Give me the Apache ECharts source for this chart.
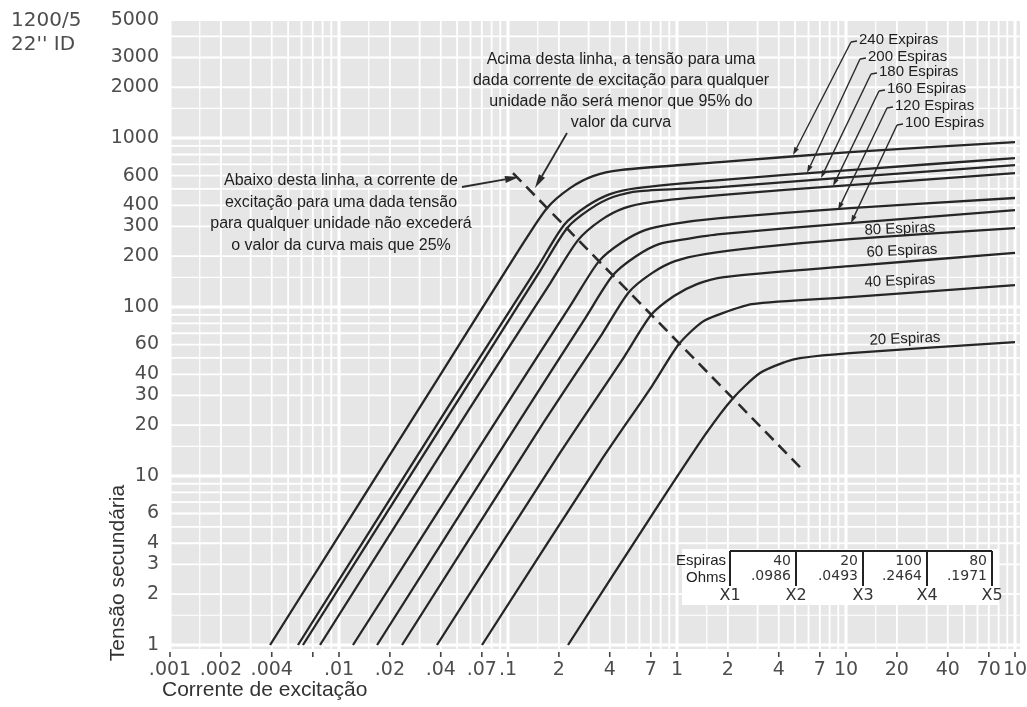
<!DOCTYPE html>
<html><head><meta charset="utf-8">
<script src="https://cdn.jsdelivr.net/npm/echarts@6/dist/echarts.min.js"></script>
<style>html,body{margin:0;padding:0;background:#fff}#c{width:1027px;height:707px}</style>
</head><body><div id="c"></div>
<script>
// ---------------- DATA ----------------
const turns = [240, 200, 180, 160, 120, 100, 80, 60, 40, 20];
// [excitation current (A), secondary voltage (V)]
const curve240 = [[0.00391,1],[0.0380,37.0],[0.1178,223],[0.170,385],[0.2328,506],[0.3184,596],[0.460,647],[1.796,721],[10.56,826],[100,947]];
const curve200 = [[0.00572,1],[0.0454,26.7],[0.1485,170],[0.2145,306],[0.2934,396],[0.4015,466],[0.580,506],[1.796,564],[10.56,647],[100,762]];
const curve180 = [[0.00612,1],[0.0486,26.3],[0.1546,163],[0.2234,293],[0.3056,380],[0.4182,448],[0.604,486],[1.796,513],[10.56,588],[100,692]];
const curve160 = [[0.00772,1],[0.0596,25.3],[0.1796,140.6],[0.2596,249],[0.3551,327],[0.4859,385],[0.702,418],[1.796,460],[10.56,527],[100,621]];
const curve120 = [[0.0121,1],[0.0897,23.0],[0.2391,105.6],[0.3456,187],[0.4727,242],[0.647,285.5],[0.934,310],[1.796,336],[10.56,385],[100,442]];
const curve100 = [[0.0168,1],[0.1178,21.5],[0.2893,87.3],[0.4182,154.6],[0.572,200],[0.782,236],[1.130,252.6],[1.796,270],[10.56,314],[100,375]];
const curve80  = [[0.0236,1],[0.1546,19.2],[0.360,69.2],[0.520,122.7],[0.711,158.9],[0.973,187],[1.465,205.9],[3.098,226.5],[10.56,252.6],[100,293.4]];
const curve60  = [[0.0380,1],[0.2031,13.7],[0.4859,50.6],[0.702,89.7],[0.960,116.2],[1.313,136.8],[1.897,150.5],[10.56,174.8],[100,209]];
const curve40  = [[0.0702,1],[0.3503,12.1],[0.711,34.1],[1.027,60.4],[1.406,81.5],[1.796,90.9],[2.778,104.2],[10.56,114.6],[100,135]];
const curve20  = [[0.2265,1],[0.692,5.64],[1.465,17.5],[2.145,28.9],[3.098,40.7],[4.356,47.3],[5.344,49.9],[10.56,53.4],[100,62.0]];
const curves = [curve240, curve200, curve180, curve160, curve120, curve100, curve80, curve60, curve40, curve20];
const kneeLine = [[0.107,621],[5.34,11.3]];

const xTickValues = [0.001,0.002,0.004,0.007,0.01,0.02,0.04,0.07,0.1,0.2,0.4,0.7,1,2,4,7,10,20,40,70,100];
const xTickLabels = ['.001','.002','.004','','.01','.02','.04','.07','.1','2','4','7','1','2','4','7','10','20','40','70','10'];
const yTickValues = [1,2,3,4,6,10,20,30,40,60,100,200,300,400,600,1000,2000,3000,5000];
const yTickLabels = ['1','2','3','4','6','10','20','30','40','60','100','200','300','400','600','1000','2000','3000','5000'];

const curveLabelsTop = ['240 Expiras','200 Espiras','180 Espiras','160 Espiras','120 Espiras','100 Espiras'];
const leaderTargets = [[4.857,793],[5.876,621],[7.114,580],[8.379,520],[8.968,375],[10.70,314]];
const curveLabelsLow = ['80 Espiras','60 Espiras','40 Espiras','20 Espiras'];

const tableTurns = ['40','20','100','80'];
const tableOhms = ['.0986','.0493','.2464','.1971'];
const tapLabels = ['X1','X2','X3','X4','X5'];

const textAbove = ['Acima desta linha, a tensão para uma','dada corrente de excitação para qualquer','unidade não será menor que 95% do','valor da curva'];
const textBelow = ['Abaixo desta linha, a corrente de','excitação para uma dada tensão','para qualquer unidade não excederá','o valor da curva mais que 25%'];

// ---------------- CHART ----------------
const chart = echarts.init(document.getElementById('c'));
const series = curves.map((c, i) => ({
  type: 'line', name: turns[i] + ' Espiras', data: c, showSymbol: false,
  smooth: 0.25, silent: true, z: 5,
  lineStyle: { color: '#262626', width: 2.3 }
}));
series.push({
  type: 'line', name: 'joelho', data: kneeLine, showSymbol: false, silent: true, z: 6,
  lineStyle: { color: '#2b2b2b', width: 2.6, type: [12, 7] }
});
const hiddenAxis = { axisLine: { show: false }, axisTick: { show: false }, axisLabel: { show: false }, splitLine: { show: false } };
chart.setOption({
  animation: false,
  grid: { left: 170, right: 12, top: 20, bottom: 62 },
  xAxis: Object.assign({ type: 'log', logBase: 10, min: 0.001, max: 100 }, hiddenAxis),
  yAxis: Object.assign({ type: 'log', logBase: 10, min: 1, max: 5000 }, hiddenAxis),
  series: series
});

const P = (x, y) => chart.convertToPixel({ gridIndex: 0 }, [x, y]);
const tl = P(0.001, 5000), br = P(100, 1);
const gx0 = tl[0], gy0 = tl[1], gx1 = br[0], gy1 = br[1];
const els = [];
const TICKFONT = '"DejaVu Sans", sans-serif';
const SANS = '"Liberation Sans", Arial, sans-serif';

// paper background + white grid
els.push({ type: 'rect', silent: true, z: 0, shape: { x: gx0, y: gy0, width: gx1 - gx0 + 5, height: gy1 - gy0 + 4 }, style: { fill: '#e6e6e6' } });
const mults = [1, 1.5, 2, 3, 4, 5, 6, 7, 8, 9];
for (let d = -3; d <= 2; d++) for (const m of mults) {
  const v = m * Math.pow(10, d);
  if (v > 100.0001) continue;
  const px = P(v, 1)[0];
  els.push({ type: 'line', silent: true, z: 1, shape: { x1: px, y1: gy0, x2: px, y2: gy1 + 4 }, style: { stroke: '#ffffff', lineWidth: m === 1 ? 3 : (m === 1.5 ? 1.2 : 1.8) } });
}
for (let d = 0; d <= 3; d++) for (const m of mults) {
  const v = m * Math.pow(10, d);
  if (v > 5000.0001) continue;
  const py = P(0.01, v)[1];
  els.push({ type: 'line', silent: true, z: 1, shape: { x1: gx0, y1: py, x2: gx1 + 5, y2: py }, style: { stroke: '#ffffff', lineWidth: m === 1 ? 3 : (m === 1.5 ? 1.2 : 1.8) } });
}

// x ticks and labels
xTickValues.forEach((v, i) => {
  const px = P(v, 1)[0];
  els.push({ type: 'line', silent: true, z: 3, shape: { x1: px, y1: gy1 + 7, x2: px, y2: gy1 + 12 }, style: { stroke: '#444', lineWidth: 1.6 } });
  if (xTickLabels[i]) els.push({ type: 'text', silent: true, z: 10, x: px, y: gy1 + 25, style: { text: xTickLabels[i], font: '19px ' + TICKFONT, fill: '#4d4d4d', textAlign: 'center', textVerticalAlign: 'middle' } });
});
// y labels
yTickValues.forEach((v, i) => {
  const py = P(0.001, v)[1];
  els.push({ type: 'text', silent: true, z: 10, x: 159, y: py, style: { text: yTickLabels[i], font: '19px ' + TICKFONT, fill: '#4d4d4d', textAlign: 'right', textVerticalAlign: 'middle' } });
});

// header text
els.push({ type: 'text', silent: true, z: 10, x: 11, y: 21, style: { text: '1200/5', font: '20px ' + TICKFONT, fill: '#4d4d4d', textVerticalAlign: 'middle' } });
els.push({ type: 'text', silent: true, z: 10, x: 11, y: 45, style: { text: "22'' ID", font: '20px ' + TICKFONT, fill: '#4d4d4d', textVerticalAlign: 'middle' } });

// axis titles
els.push({ type: 'text', silent: true, z: 10, x: 118, y: 573, rotation: Math.PI / 2, style: { text: 'Tensão secundária', font: '21px ' + SANS, fill: '#333', textAlign: 'center', textVerticalAlign: 'middle' } });
els.push({ type: 'text', silent: true, z: 10, x: 162, y: 690, style: { text: 'Corrente de excitação', font: '21px ' + SANS, fill: '#333', textAlign: 'left', textVerticalAlign: 'middle' } });

// annotation texts
textAbove.forEach((t, i) => els.push({ type: 'text', silent: true, z: 10, x: 621, y: 60 + i * 21, style: { text: t, font: '16px ' + SANS, fill: '#1e1e1e', textAlign: 'center', textVerticalAlign: 'middle' } }));
textBelow.forEach((t, i) => els.push({ type: 'text', silent: true, z: 10, x: 341, y: 181 + i * 21.5, style: { text: t, font: '16px ' + SANS, fill: '#1e1e1e', textAlign: 'center', textVerticalAlign: 'middle' } }));

function arrow(x1, y1, x2, y2, len, w, lw) {
  const a = Math.atan2(y2 - y1, x2 - x1);
  const bx = x2 - len * Math.cos(a), by = y2 - len * Math.sin(a);
  const nx = -Math.sin(a) * w / 2, ny = Math.cos(a) * w / 2;
  els.push({ type: 'line', silent: true, z: 9, shape: { x1: x1, y1: y1, x2: bx, y2: by }, style: { stroke: '#2a2a2a', lineWidth: lw } });
  els.push({ type: 'polygon', silent: true, z: 9, shape: { points: [[x2, y2], [bx + nx, by + ny], [bx - nx, by - ny]] }, style: { fill: '#2a2a2a' } });
}
// arrows to knee line
const kTop = P(kneeLine[0][0], kneeLine[0][1]);
arrow(462, 187, kTop[0] + 6, kTop[1] + 4, 14, 7, 1.8);
arrow(567, 133, kTop[0] + 22, kTop[1] + 15, 14, 7, 1.8);

// upper curve labels with leaders
const lblX = [859, 868, 879, 887, 895, 905];
const lblY = [40, 57, 72, 89, 106, 123];
curveLabelsTop.forEach((t, i) => {
  els.push({ type: 'text', silent: true, z: 10, x: lblX[i], y: lblY[i], style: { text: t, font: '15px ' + SANS, fill: '#1e1e1e', textVerticalAlign: 'middle' } });
  const e = P(leaderTargets[i][0], leaderTargets[i][1]);
  const sx = lblX[i] - 2, sy = lblY[i] + 1;
  els.push({ type: 'line', silent: true, z: 9, shape: { x1: sx, y1: sy, x2: sx - 6, y2: sy + 1 }, style: { stroke: '#2a2a2a', lineWidth: 1.4 } });
  arrow(sx - 6, sy + 1, e[0], e[1], 8, 5, 1.4);
});
// lower curve labels
const lowPos = [[900, 229], [902, 251], [900, 281], [905, 339]];
curveLabelsLow.forEach((t, i) => els.push({ type: 'text', silent: true, z: 10, x: lowPos[i][0], y: lowPos[i][1], rotation: 0.045, style: { text: t, font: '15px ' + SANS, fill: '#1e1e1e', textAlign: 'center', textVerticalAlign: 'middle' } }));

// tap table
const barX = [730, 796, 863, 927, 992];
els.push({ type: 'rect', silent: true, z: 2, shape: { x: 682, y: 549, width: 316, height: 56 }, style: { fill: '#ffffff' } });
els.push({ type: 'line', silent: true, z: 9, shape: { x1: barX[0], y1: 551, x2: barX[4], y2: 551 }, style: { stroke: '#222', lineWidth: 1.8 } });
barX.forEach((bx, i) => {
  els.push({ type: 'line', silent: true, z: 9, shape: { x1: bx, y1: 551, x2: bx, y2: 586 }, style: { stroke: '#222', lineWidth: 2 } });
  els.push({ type: 'text', silent: true, z: 10, x: bx, y: 596, style: { text: tapLabels[i], font: '16px ' + TICKFONT, fill: '#333', textAlign: 'center', textVerticalAlign: 'middle' } });
});
tableTurns.forEach((t, i) => {
  els.push({ type: 'text', silent: true, z: 10, x: barX[i + 1] - 5, y: 561, style: { text: t, font: '14px ' + TICKFONT, fill: '#333', textAlign: 'right', textVerticalAlign: 'middle' } });
  els.push({ type: 'text', silent: true, z: 10, x: barX[i + 1] - 5, y: 576, style: { text: tableOhms[i], font: '14px ' + TICKFONT, fill: '#333', textAlign: 'right', textVerticalAlign: 'middle' } });
});
els.push({ type: 'text', silent: true, z: 10, x: 726, y: 561, style: { text: 'Espiras', font: '15px ' + SANS, fill: '#1e1e1e', textAlign: 'right', textVerticalAlign: 'middle' } });
els.push({ type: 'text', silent: true, z: 10, x: 726, y: 578, style: { text: 'Ohms', font: '15px ' + SANS, fill: '#1e1e1e', textAlign: 'right', textVerticalAlign: 'middle' } });

chart.setOption({ graphic: { elements: els } });
</script></body></html>
